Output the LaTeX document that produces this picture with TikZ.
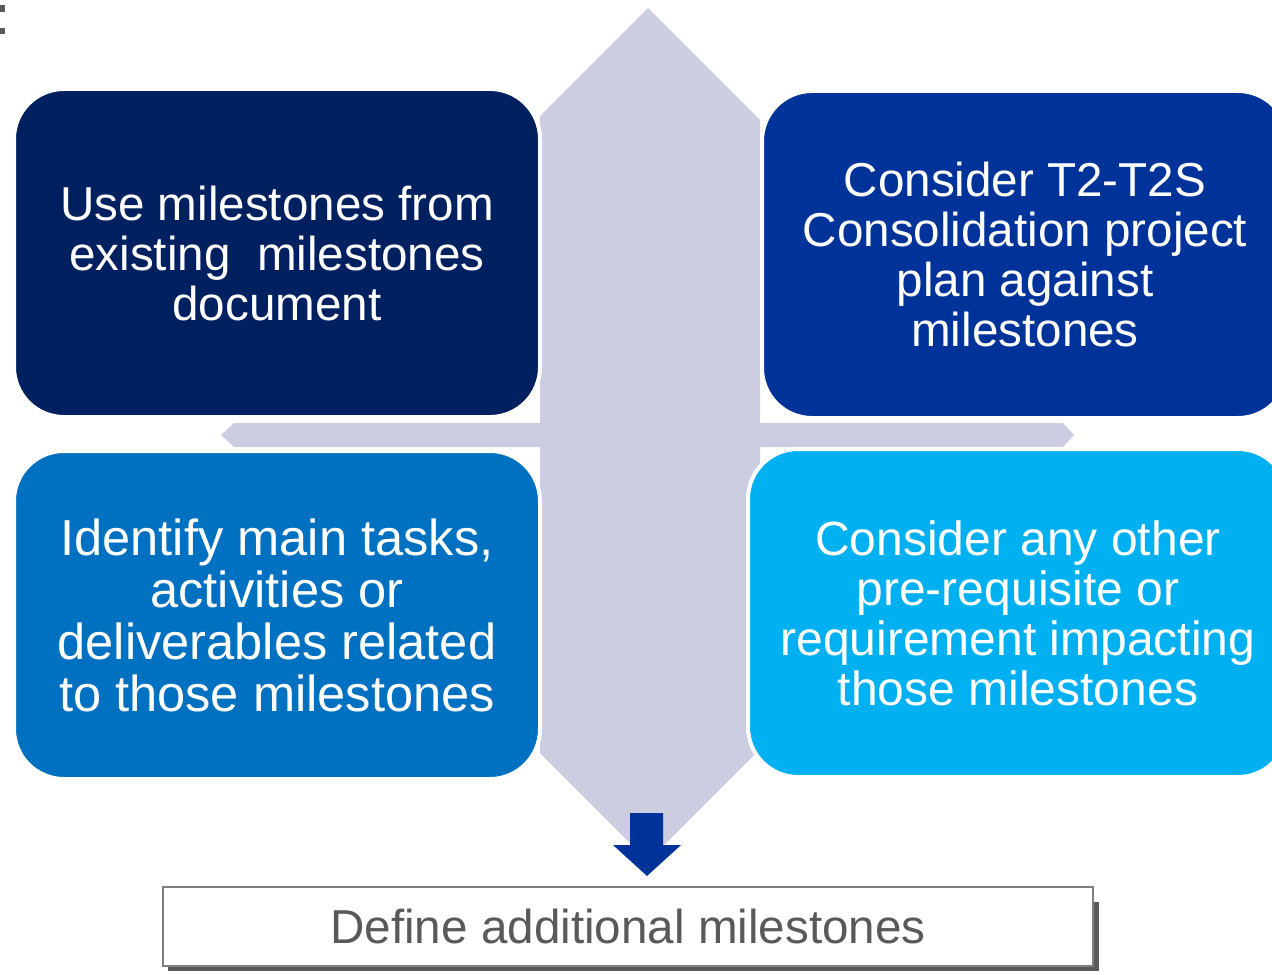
\documentclass[tikz,border=0pt]{standalone}
\usepackage{fontspec}
\setmainfont{Liberation Sans}
\definecolor{bandc}{HTML}{CCCDE0}
\definecolor{cone}{HTML}{002060}
\definecolor{ctwo}{HTML}{003399}
\definecolor{cthree}{HTML}{0070C0}
\definecolor{cfour}{HTML}{00B0F0}
\definecolor{greyt}{HTML}{595959}
\definecolor{greyb}{HTML}{7F7F7F}
\tikzset{
  card/.style={draw=white, line width=2pt, rounded corners=25pt, text=white,
    align=center, font=\fontsize{23.8}{25}\selectfont, inner sep=0pt},
  resultbox/.style={draw=greyb, line width=0.8pt, fill=white, text=greyt,
    font=\fontsize{23.8}{25}\selectfont, inner sep=0pt,
    minimum width=465pt, minimum height=39.5pt},
}
\begin{document}
\begin{tikzpicture}[x=0.5pt,y=-0.5pt]
\useasboundingbox (0,0) rectangle (1272,974);
\clip (0,0) rectangle (1272,974);
% marks at top-left
\fill[greyt] (0,5) rectangle (5,12);
\fill[greyt] (0,28) rectangle (5,34);
% background cross band
\fill[bandc] (648,8) -- (760,120) -- (760,423) -- (1063,423) -- (1074,435)
  -- (1063,447) -- (760,447) -- (760,749) -- (648,861) -- (540,753)
  -- (540,447) -- (234,447) -- (221,435) -- (234,423) -- (540,423)
  -- (540,116) -- cycle;
% boxes
\node[card, fill=cone, minimum width=263pt, minimum height=164pt] (b1) at (277,253)
  {Use milestones from\\existing\ \ milestones\\document};
\node[card, fill=ctwo, minimum width=263pt, minimum height=163.5pt] (b2) at (1025,254.5)
  {Consider T2-T2S\\Consolidation project\\plan against\\milestones};
\node[card, fill=cthree, minimum width=263pt, minimum height=164pt,
  font=\fontsize{25.3}{26}\selectfont] (b3) at (277,615)
  {Identify main tasks,\\activities or\\deliverables related\\to those milestones};
\node[card, fill=cfour, minimum width=270pt, minimum height=164pt,
  font=\fontsize{24}{25}\selectfont] (b4) at (1018,613)
  {Consider any other\\pre-requisite or\\requirement impacting\\those milestones};
% down arrow
\fill[ctwo] (630,813) -- (663,813) -- (663,845) -- (681,845) -- (647,876)
  -- (613,845) -- (630,845) -- cycle;
% result box with shadow
\fill[greyt] (168,902) rectangle (1099,971);
\node[resultbox] (res) at (628,926.5) {Define additional milestones};
\end{tikzpicture}
\end{document}
